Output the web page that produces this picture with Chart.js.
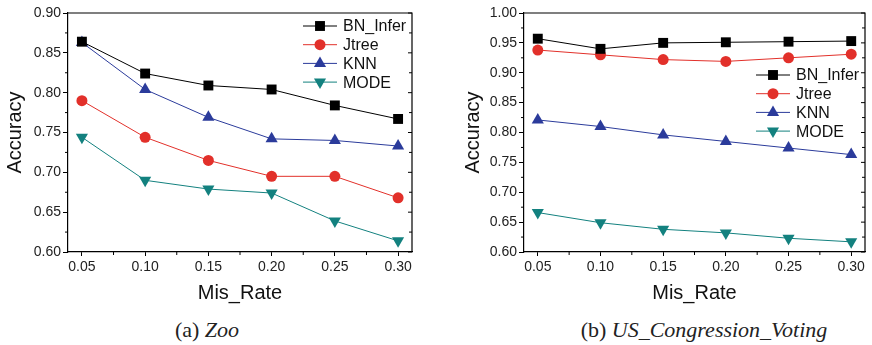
<!DOCTYPE html>
<html>
<head>
<meta charset="utf-8">
<script src="https://cdn.jsdelivr.net/npm/chart.js@4.4.0/dist/chart.umd.min.js"></script>
<style>
    body { margin: 0; background: #fff; width: 872px; height: 345px; position: relative; overflow: hidden; }
    .box { position: absolute; top: 0; width: 436px; height: 305px; }
    .caption { position: absolute; top: 319px; line-height: 22px; font-family: "Liberation Serif", serif; font-size: 22px; color: #222; white-space: nowrap; transform: translateX(-50%); }
    .caption i { font-style: italic; }
</style>
</head>
<body>
<div class="box" style="left:0"><canvas id="zooChart"></canvas></div>
<div class="box" style="left:436px"><canvas id="votingChart"></canvas></div>
<div class="caption" style="left:207px">(a) <i>Zoo</i></div>
<div class="caption" style="left:704px">(b) <i>US_Congression_Voting</i></div>
<script>
const misRate = [0.05, 0.10, 0.15, 0.20, 0.25, 0.30];

// Zoo
const zooBN = [0.864, 0.824, 0.809, 0.804, 0.784, 0.767];
const zooJtree = [0.790, 0.744, 0.715, 0.695, 0.695, 0.668];
const zooKNN = [0.863, 0.804, 0.769, 0.742, 0.740, 0.733];
const zooMODE = [0.744, 0.690, 0.679, 0.674, 0.639, 0.614];
const zooYTicks = [0.60, 0.65, 0.70, 0.75, 0.80, 0.85, 0.90];

// US_Congression_Voting
const voteBN = [0.957, 0.940, 0.950, 0.951, 0.952, 0.953];
const voteJtree = [0.938, 0.930, 0.922, 0.919, 0.925, 0.931];
const voteKNN = [0.821, 0.810, 0.796, 0.785, 0.774, 0.763];
const voteMODE = [0.666, 0.649, 0.638, 0.632, 0.623, 0.617];
const voteYTicks = [0.60, 0.65, 0.70, 0.75, 0.80, 0.85, 0.90, 0.95, 1.00];

const seriesNames = ["BN_Infer", "Jtree", "KNN", "MODE"];
const colors = ["#000000", "#e2302a", "#2b3b9b", "#13817f"];
const styles = [
    { pointStyle: "rect", radius: 7, rotation: 0 },
    { pointStyle: "circle", radius: 5.5, rotation: 0 },
    { pointStyle: "triangle", radius: 7, rotation: 0 },
    { pointStyle: "triangle", radius: 7, rotation: 180 }
];

const fontFamily = "'Liberation Sans', Arial, sans-serif";

// legend + frame + minor ticks
const extrasPlugin = {
    id: "extras",
    afterDraw(chart, args, opts) {
        const ctx = chart.ctx;
        const area = chart.chartArea;
        const xs = chart.scales.x;
        const ys = chart.scales.y;
        ctx.save();
        ctx.strokeStyle = "#000";
        ctx.lineWidth = 1.2;
        ctx.beginPath();
        ctx.moveTo(area.left, area.top);
        ctx.lineTo(area.right, area.top);
        ctx.lineTo(area.right, area.bottom);
        ctx.stroke();

        // minor ticks on bottom and left, inward ticks on right
        ctx.lineWidth = 1;
        ctx.beginPath();
        for (let i = 0; i < misRate.length - 1; i++) {
            const px = xs.getPixelForValue((misRate[i] + misRate[i + 1]) / 2);
            ctx.moveTo(px, area.bottom);
            ctx.lineTo(px, area.bottom + 3);
        }
        const yt = opts.yTicks;
        for (let i = 0; i < yt.length; i++) {
            const py = ys.getPixelForValue(yt[i]);
            ctx.moveTo(area.right, py);
            ctx.lineTo(area.right - 4, py);
            if (i < yt.length - 1) {
                const pm = ys.getPixelForValue((yt[i] + yt[i + 1]) / 2);
                ctx.moveTo(area.right, pm);
                ctx.lineTo(area.right - 3, pm);
                ctx.moveTo(area.left, pm);
                ctx.lineTo(area.left - 3, pm);
            }
        }
        ctx.stroke();

        // legend
        const lx = area.right - 109;
        let ly = area.top + opts.legendTop;
        ctx.font = "16px " + fontFamily;
        ctx.textBaseline = "middle";
        chart.data.datasets.forEach(function (ds, i) {
            ctx.strokeStyle = ds.borderColor;
            ctx.lineWidth = 1;
            ctx.beginPath();
            ctx.moveTo(lx, ly);
            ctx.lineTo(lx + 34, ly);
            ctx.stroke();
            ctx.fillStyle = ds.pointBackgroundColor;
            Chart.helpers.drawPoint(ctx, {
                pointStyle: styles[i].pointStyle,
                radius: styles[i].radius,
                rotation: styles[i].rotation,
                borderWidth: 0
            }, lx + 17, ly);
            ctx.fillStyle = "#111";
            ctx.fillText(ds.label, lx + 40, ly + 1);
            ly += 18.7;
        });
        ctx.restore();
    }
};

function makeDatasets(seriesList) {
    return seriesList.map(function (values, i) {
        return {
            label: seriesNames[i],
            data: misRate.map(function (x, j) { return { x: x, y: values[j] }; }),
            borderColor: colors[i],
            backgroundColor: colors[i],
            pointBackgroundColor: colors[i],
            pointBorderColor: colors[i],
            borderWidth: 1,
            pointBorderWidth: 0,
            pointStyle: styles[i].pointStyle,
            pointRadius: styles[i].radius,
            pointRotation: styles[i].rotation,
            tension: 0
        };
    });
}

function drawChart(canvasId, seriesList, yMin, yMax, yTicks, padLeft, padRight, yWidth, legendTop) {
    const ctx = document.getElementById(canvasId).getContext("2d");
    return new Chart(ctx, {
        type: "line",
        data: { datasets: makeDatasets(seriesList) },
        plugins: [extrasPlugin],
        options: {
            responsive: true,
            maintainAspectRatio: false,
            animation: false,
            layout: { padding: { left: padLeft, right: padRight, top: 13, bottom: 0 } },
            plugins: {
                legend: { display: false },
                tooltip: { enabled: false },
                extras: { yTicks: yTicks, legendTop: legendTop }
            },
            scales: {
                x: {
                    type: "linear",
                    min: 0.039,
                    max: 0.311,
                    afterBuildTicks: function (scale) {
                        scale.ticks = misRate.map(function (v) { return { value: v }; });
                    },
                    afterFit: function (scale) { scale.height = 53; },
                    grid: { drawOnChartArea: false, drawTicks: true, tickLength: 4, color: "#000" },
                    border: { display: true, color: "#000", width: 1.2 },
                    ticks: {
                        padding: 3,
                        color: "#222",
                        font: { family: fontFamily, size: 14 },
                        callback: function (v) { return Number(v).toFixed(2); }
                    },
                    title: {
                        display: true,
                        text: "Mis_Rate",
                        color: "#111",
                        padding: { top: 0, bottom: 0 },
                        font: { family: fontFamily, size: 20 }
                    }
                },
                y: {
                    min: yMin,
                    max: yMax,
                    afterBuildTicks: function (scale) {
                        scale.ticks = yTicks.map(function (v) { return { value: v }; });
                    },
                    afterFit: function (scale) { scale.width = yWidth; },
                    grid: { drawOnChartArea: false, drawTicks: true, tickLength: 5, color: "#000" },
                    border: { display: true, color: "#000", width: 1.2 },
                    ticks: {
                        padding: 2,
                        color: "#222",
                        font: { family: fontFamily, size: 14 },
                        callback: function (v) { return Number(v).toFixed(2); }
                    },
                    title: {
                        display: true,
                        text: "Accuracy",
                        color: "#111",
                        padding: { top: 3, bottom: 0 },
                        font: { family: fontFamily, size: 20 }
                    }
                }
            }
        }
    });
}

drawChart("zooChart", [zooBN, zooJtree, zooKNN, zooMODE], 0.60, 0.90, zooYTicks, 0, 24, 68, 13);
drawChart("votingChart", [voteBN, voteJtree, voteKNN, voteMODE], 0.60, 1.00, voteYTicks, 22, 4, 66, 62);
</script>
</body>
</html>
